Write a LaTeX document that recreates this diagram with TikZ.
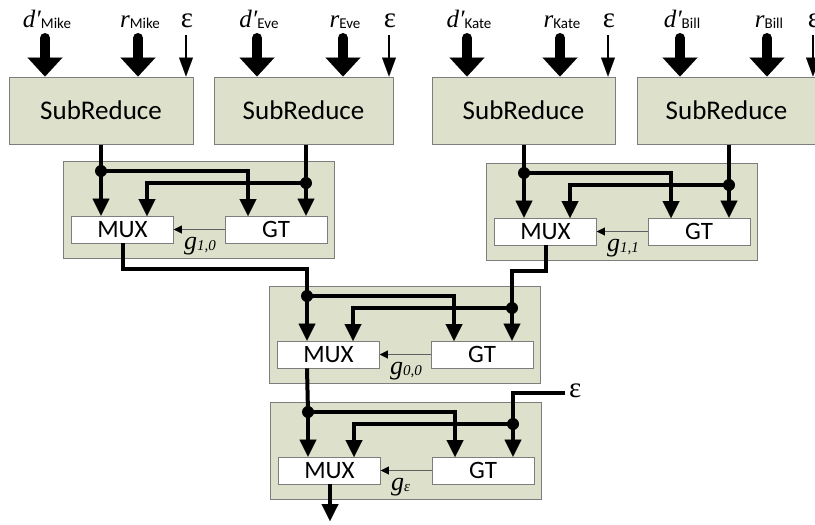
\documentclass[tikz,border=0pt]{standalone}
\usepackage{fontspec}
\setmainfont{Carlito}
\newfontfamily\serifface{Liberation Serif}
\usetikzlibrary{arrows.meta}

\definecolor{boxfill}{RGB}{221,224,203}
\definecolor{boxline}{RGB}{125,125,125}
\definecolor{ctlline}{RGB}{95,95,95}

% label of a block input: italic symbol with a sans-serif subscript
\newcommand\inlabel[2]{{\fontsize{25}{25}\selectfont\serifface\itshape #1}\raisebox{-1.5pt}{\fontsize{15}{15}\selectfont #2}}
% label of a select signal g with an italic subscript
\newcommand\selabel[1]{{\fontsize{26}{26}\selectfont\serifface\itshape g}\raisebox{-1.5pt}{\fontsize{15}{15}\selectfont\serifface\itshape #1}}

\tikzset{
  srbox/.style={draw=boxline,fill=boxfill,line width=1pt,minimum height=67pt,
    inner sep=0pt,font=\fontsize{27}{27}\selectfont},
  frame/.style={draw=boxline,fill=boxfill,line width=1pt,inner sep=0pt,
    minimum width=271pt,minimum height=97pt,anchor=north west},
  unit/.style={draw=boxline,fill=white,line width=0.8pt,minimum width=102pt,
    minimum height=27pt,inner sep=0pt,font=\fontsize{25}{25}\selectfont},
  bigin/.style={line width=10pt,line cap=round,
    -{Triangle[width=35pt,length=19pt,line width=0.01pt]}},
  epsin/.style={line width=2.6pt,-{Triangle[width=14pt,length=19pt,line width=0.01pt]}},
  wire/.style={line width=4pt},
  wirein/.style={wire,-{Triangle[width=17pt,length=17pt,line width=0.01pt]}},
  ctl/.style={draw=ctlline,line width=1pt,
    -{Triangle[width=8pt,length=8pt,line width=0.01pt,color=black]}},
  junc/.style={circle,fill=black,inner sep=0pt,minimum size=12pt},
  lbl/.style={inner sep=0pt,anchor=base},
  epslbl/.style={inner sep=0pt,font=\fontsize{29}{29}\selectfont\serifface},
}

% comparator stage: frame, MUX, GT, fan-out wires and select line
\newcommand\cmpstage[4]{%
  \begin{scope}[shift={(#2,#3)}]
    \node[frame] (#1frame) at (0,0) {};
    \node[unit] (#1mux) at (59.5,68.5) {MUX};
    \node[unit] (#1gt) at (213,68.5) {GT};
    \coordinate (#1l) at (38,10);
    \coordinate (#1r) at (243,22);
    \coordinate (#1m2) at (84,55);
    \coordinate (#1g1) at (185,55);
    \node[inner sep=0pt,anchor=base west] (#1sel) at (121,88) {\selabel{#4}};
  \end{scope}
  \draw[wirein] (#1l) -- (#1l |- #1mux.north);
  \draw[wirein] (#1l) -| (#1g1);
  \draw[wirein] (#1r) -- (#1r |- #1gt.north);
  \draw[wirein] (#1r) -| (#1m2);
  \draw[ctl] (#1gt.west) -- (#1mux.east);
}

\begin{document}
\begin{tikzpicture}[x=1pt,y=-1pt]
\useasboundingbox (0,0) rectangle (815,525);

% SubReduce blocks
\node[srbox,minimum width=184pt] (sr1) at (101,110.5) {SubReduce};
\node[srbox,minimum width=179pt] (sr2) at (303.5,110.5) {SubReduce};
\node[srbox,minimum width=183pt] (sr3) at (523.5,110.5) {SubReduce};
\node[srbox,minimum width=179pt] (sr4) at (726.5,110.5) {SubReduce};

% inputs of the SubReduce blocks
\foreach \n/\dx/\rx/\ex/\who in {1/45/138/186/Mike, 2/257/343/389/Eve,
                                 3/467/560/608/Kate, 4/680/767/813/Bill}{
  \coordinate (din\n) at (\dx,38);
  \coordinate (rin\n) at (\rx,38);
  \coordinate (ein\n) at (\ex,35);
  \node[lbl] (dlbl\n) at (\dx+2,27) {\inlabel{d′}{\who}};
  \node[lbl] (rlbl\n) at (\rx+2,27) {\inlabel{r}{\who}};
  \node[lbl,epslbl] (elbl\n) at (\ex+1,27) {ε};
  \draw[bigin] (din\n) -- (din\n |- sr\n.north);
  \draw[bigin] (rin\n) -- (rin\n |- sr\n.north);
  \draw[epsin] (ein\n) -- (ein\n |- sr\n.north);
}

% comparator stages
\cmpstage{A}{63}{161}{1,0}
\cmpstage{B}{486}{163}{1,1}
\cmpstage{C}{269}{286}{0,0}
\cmpstage{D}{270}{402}{ε}

% SubReduce outputs into the first level
\draw[wire] (Al |- sr1.south) -- (Al);
\draw[wire] (Ar |- sr2.south) -- (Ar);
\draw[wire] (Bl |- sr3.south) -- (Bl);
\draw[wire] (Br |- sr4.south) -- (Br);

% first level into the second
\coordinate (ajoin) at (307,269);
\coordinate (bjoin) at (512,271);
\draw[wire] (Amux.south) |- (ajoin) -- (Cl);
\draw[wire] (Bmux.south) |- (bjoin) -- (Cr);

% second level into the last stage
\draw[wire] (Cl |- Cmux.south) -- (Dl);
\coordinate (epsend) at (565,393);
\node[epslbl,anchor=west] (epsD) at (569,391) {ε};
\draw[wire] (epsend) -| (Dr);

% final output
\coordinate (out) at (330,521);
\draw[wirein] (Dmux.south -| out) -- (out);

% junction dots
\foreach \s in {A,B,C,D}{
  \node[junc] (\s ldot) at (\s l) {};
  \node[junc] (\s rdot) at (\s r) {};
}
\end{tikzpicture}
\end{document}
